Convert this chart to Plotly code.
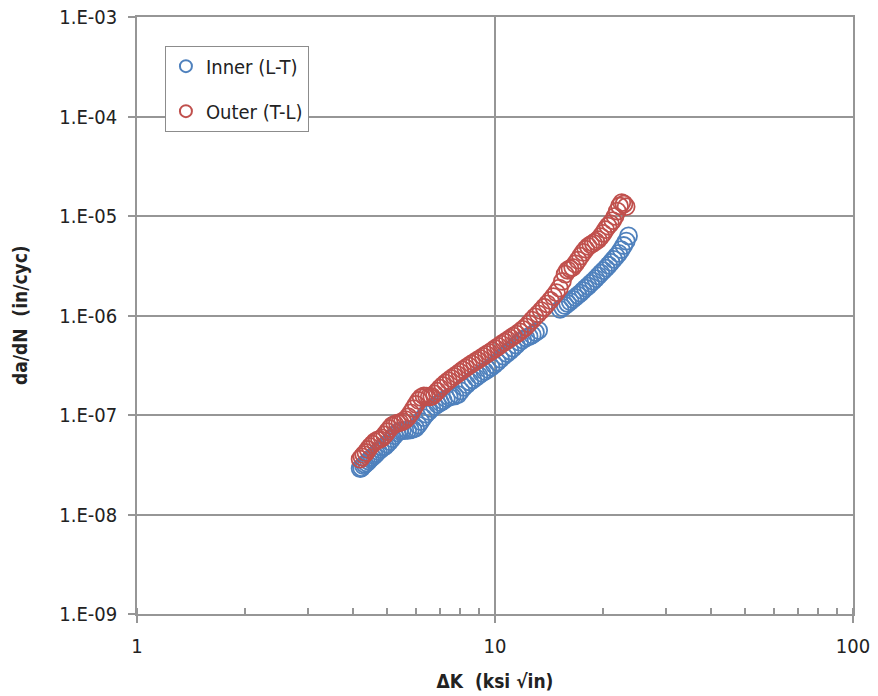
import plotly.graph_objects as go

# Fatigue crack growth rate vs stress-intensity range
inner_dk = [4.20, 4.24, 4.29, 4.33, 4.38, 4.43, 4.48, 4.54, 4.60, 4.66,
            4.72, 4.79, 4.86, 4.93, 5.00, 5.08, 5.16, 5.24, 5.33, 5.42,
            5.51, 5.60, 5.70, 5.80, 5.90, 6.00, 6.10, 6.20, 6.31, 6.42,
            6.54, 6.66, 6.78, 6.91, 7.04, 7.17, 7.31, 7.45, 7.59, 7.73,
            7.88, 8.03, 8.18, 8.34, 8.50, 8.67, 8.84, 9.01, 9.19, 9.37,
            9.56, 9.75, 9.95, 10.15, 10.36, 10.57, 10.79, 11.01, 11.24, 11.47,
            11.71, 11.95, 12.20, 12.45, 12.71, 12.97, 13.24,
            15.20, 15.45, 15.70, 15.96, 16.22, 16.49, 16.76, 17.04, 17.32, 17.61,
            17.90, 18.20, 18.50, 18.81, 19.12, 19.44, 19.76, 20.09, 20.42, 20.76,
            21.10, 21.45, 21.80, 22.16, 22.52, 22.89, 23.26, 23.60]
inner_dadn = [2.90e-8, 2.95e-8, 3.10e-8, 3.20e-8, 3.30e-8, 3.45e-8, 3.60e-8, 3.75e-8, 3.90e-8, 4.10e-8,
              4.30e-8, 4.50e-8, 4.70e-8, 4.85e-8, 5.10e-8, 5.40e-8, 5.80e-8, 6.20e-8, 6.60e-8, 6.90e-8,
              7.00e-8, 6.95e-8, 7.00e-8, 7.10e-8, 7.20e-8, 7.40e-8, 7.90e-8, 8.60e-8, 9.40e-8, 1.02e-7,
              1.09e-7, 1.16e-7, 1.22e-7, 1.28e-7, 1.33e-7, 1.39e-7, 1.46e-7, 1.51e-7, 1.54e-7, 1.56e-7,
              1.60e-7, 1.75e-7, 1.90e-7, 2.02e-7, 2.15e-7, 2.26e-7, 2.38e-7, 2.50e-7, 2.63e-7, 2.75e-7,
              2.88e-7, 3.02e-7, 3.20e-7, 3.40e-7, 3.65e-7, 3.90e-7, 4.15e-7, 4.40e-7, 4.70e-7, 5.05e-7,
              5.40e-7, 5.70e-7, 5.95e-7, 6.15e-7, 6.40e-7, 6.75e-7, 7.10e-7,
              1.15e-6, 1.20e-6, 1.26e-6, 1.32e-6, 1.38e-6, 1.45e-6, 1.52e-6, 1.60e-6, 1.68e-6, 1.78e-6,
              1.88e-6, 1.98e-6, 2.10e-6, 2.22e-6, 2.35e-6, 2.50e-6, 2.66e-6, 2.82e-6, 3.00e-6, 3.20e-6,
              3.42e-6, 3.66e-6, 3.92e-6, 4.22e-6, 4.60e-6, 5.05e-6, 5.60e-6, 6.30e-6]

outer_dk = [4.20, 4.25, 4.30, 4.36, 4.42, 4.48, 4.55, 4.62, 4.69, 4.76,
            4.84, 4.92, 5.00, 5.08, 5.16, 5.25, 5.34, 5.43, 5.52, 5.62,
            5.72, 5.82, 5.92, 6.02, 6.12, 6.22, 6.33, 6.44, 6.55, 6.66,
            6.78, 6.90, 7.02, 7.15, 7.28, 7.41, 7.55, 7.69, 7.83, 7.98,
            8.13, 8.28, 8.44, 8.60, 8.76, 8.93, 9.10, 9.28, 9.46, 9.64,
            9.83, 10.02, 10.22, 10.42, 10.63, 10.84, 11.05, 11.27, 11.49, 11.72,
            11.95, 12.19, 12.43, 12.68, 12.93, 13.19, 13.45, 13.72, 13.99, 14.27,
            14.55, 14.84, 15.13, 15.42, 15.70, 15.95, 16.20, 16.48, 16.76, 17.05,
            17.34, 17.63, 17.92, 18.22, 18.52, 18.82, 19.12, 19.43, 19.74, 20.05,
            20.36, 20.68, 21.00, 21.32, 21.64, 21.96, 22.28, 22.60, 22.92, 23.24]
outer_dadn = [3.60e-8, 3.80e-8, 4.00e-8, 4.20e-8, 4.50e-8, 4.80e-8, 5.10e-8, 5.40e-8, 5.60e-8, 5.70e-8,
              5.90e-8, 6.30e-8, 6.80e-8, 7.30e-8, 7.80e-8, 8.10e-8, 8.30e-8, 8.40e-8, 8.60e-8, 9.00e-8,
              9.60e-8, 1.05e-7, 1.16e-7, 1.28e-7, 1.40e-7, 1.50e-7, 1.56e-7, 1.55e-7, 1.52e-7, 1.54e-7,
              1.63e-7, 1.74e-7, 1.86e-7, 1.98e-7, 2.10e-7, 2.22e-7, 2.33e-7, 2.44e-7, 2.56e-7, 2.70e-7,
              2.84e-7, 2.98e-7, 3.12e-7, 3.26e-7, 3.40e-7, 3.55e-7, 3.70e-7, 3.88e-7, 4.06e-7, 4.24e-7,
              4.44e-7, 4.66e-7, 4.90e-7, 5.15e-7, 5.40e-7, 5.66e-7, 5.92e-7, 6.20e-7, 6.50e-7, 6.85e-7,
              7.25e-7, 7.70e-7, 8.30e-7, 9.00e-7, 9.70e-7, 1.04e-6, 1.12e-6, 1.21e-6, 1.31e-6, 1.42e-6,
              1.55e-6, 1.70e-6, 1.88e-6, 2.20e-6, 2.60e-6, 2.85e-6, 2.95e-6, 3.05e-6, 3.30e-6, 3.60e-6,
              3.95e-6, 4.30e-6, 4.65e-6, 4.95e-6, 5.15e-6, 5.35e-6, 5.55e-6, 5.80e-6, 6.20e-6, 6.70e-6,
              7.30e-6, 7.90e-6, 8.40e-6, 9.00e-6, 9.90e-6, 1.12e-5, 1.26e-5, 1.36e-5, 1.32e-5, 1.24e-5]

x_tick_vals = [1, 10, 100]
x_tick_text = ["1", "10", "100"]
y_tick_vals = [1e-9, 1e-8, 1e-7, 1e-6, 1e-5, 1e-4, 1e-3]
y_tick_text = ["1.E-09", "1.E-08", "1.E-07", "1.E-06", "1.E-05", "1.E-04", "1.E-03"]

BLUE = "#4F81BD"
RED = "#C0504D"
GRID = "#969696"
FONT = "DejaVu Sans Condensed"

fig = go.Figure()
fig.add_trace(go.Scatter(
    x=inner_dk, y=inner_dadn, mode="markers", name="Inner (L-T)",
    legendgroup="inner",
    marker=dict(symbol="circle-open", size=17, color=BLUE, line=dict(width=1.8, color=BLUE)),
))
fig.add_trace(go.Scatter(
    x=outer_dk, y=outer_dadn, mode="markers", name="Outer (T-L)",
    legendgroup="outer",
    marker=dict(symbol="circle-open", size=17, color=RED, line=dict(width=1.8, color=RED)),
))

fig.update_layout(
    width=878, height=696,
    margin=dict(l=137, r=25, t=17, b=82),
    paper_bgcolor="white", plot_bgcolor="white",
    font=dict(family=FONT, size=19, color="#222222"),
    showlegend=True,
    legend=dict(
        x=0.039, y=0.952, xanchor="left", yanchor="top",
        bgcolor="white", bordercolor="#8C8C8C", borderwidth=1,
        font=dict(family=FONT, size=20, color="#222222"),
        tracegroupgap=16, itemsizing="constant",
    ),
    annotations=[dict(
        text="<b>da/dN  (in/cyc)</b>", textangle=-90,
        xref="paper", yref="paper", x=-0.164, y=0.5,
        xanchor="center", yanchor="middle", showarrow=False,
        font=dict(family=FONT, size=19, color="#222222"),
    )],
)

fig.update_xaxes(
    type="log", range=[0, 2], automargin=False,
    tickmode="array", tickvals=x_tick_vals, ticktext=x_tick_text,
    ticks="outside", ticklen=7, tickwidth=1.5, tickcolor=GRID,
    minor=dict(ticks="inside", ticklen=6, tickwidth=1.5, tickcolor=GRID,
               dtick="D1", showgrid=False),
    showgrid=True, gridcolor=GRID, gridwidth=1.5,
    showline=True, linecolor=GRID, linewidth=1.5, mirror=True,
    zeroline=False,
    tickfont=dict(family=FONT, size=20),
    ticklabelstandoff=6,
    title=dict(text="<b>ΔK  (ksi √in)</b>", font=dict(family=FONT, size=19), standoff=18),
)
fig.update_yaxes(
    type="log", range=[-9, -3], automargin=False,
    tickmode="array", tickvals=y_tick_vals, ticktext=y_tick_text,
    ticks="outside", ticklen=7, tickwidth=1.5, tickcolor=GRID,
    showgrid=True, gridcolor=GRID, gridwidth=1.5,
    showline=True, linecolor=GRID, linewidth=1.5, mirror=True,
    zeroline=False,
    tickfont=dict(family=FONT, size=20),
    ticklabelstandoff=7,
)

fig.write_html("out.html")
